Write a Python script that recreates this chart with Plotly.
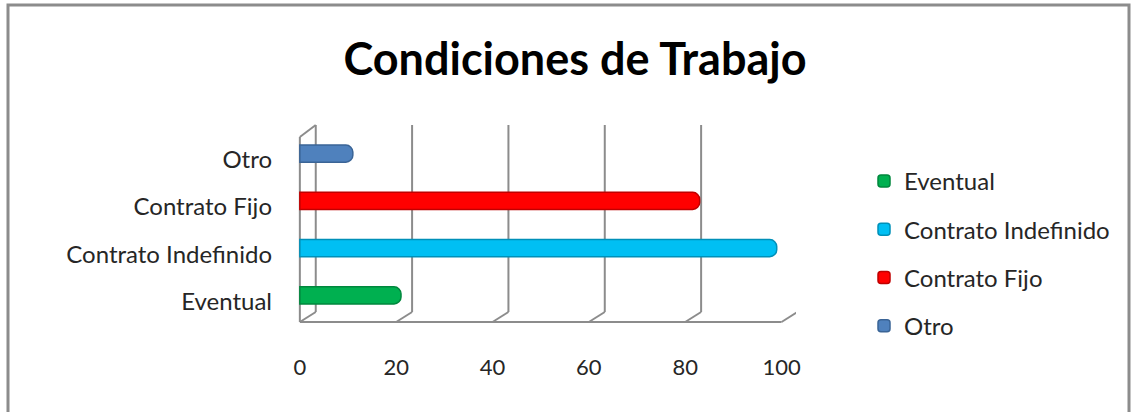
import plotly.graph_objects as go

categories = ["Eventual", "Contrato Indefinido", "Contrato Fijo", "Otro"]
values = [21, 99, 83, 11]
colors = ["#00B050", "#00BFF3", "#FF0000", "#4F81BD"]
edge_colors = ["#00873D", "#0090B8", "#C00000", "#3A6496"]
x_ticks = [0, 20, 40, 60, 80, 100]

W, H = 1131, 412
L, R, T, B = 296, 335, 130, 93
pw, ph = W - L - R, H - T - B

def px(x):
    return (x - L) / pw

def py(y):
    return 1 - (y - T) / ph

FONT = "Lato, Carlito, Calibri, sans-serif"

fig = go.Figure()
for i, (cat, val) in enumerate(zip(categories, values)):
    fig.add_trace(go.Bar(
        y=[cat], x=[val], orientation="h", name=cat,
        marker=dict(color=colors[i], line=dict(color=edge_colors[i], width=1.5),
                    cornerradius=7),
        width=0.36, legendgroup=cat, showlegend=True, hoverinfo="x+y",
    ))

shapes = []
gray = "#8C8C8C"
off = 3.3  # back-wall offset in data units
y_top, y_back, y_front = 125, 312, 322
for t in x_ticks:
    shapes.append(dict(type="line", xref="x", yref="paper", x0=t + off, x1=t + off,
                       y0=py(y_top), y1=py(y_back), line=dict(color=gray, width=2), layer="below"))
    shapes.append(dict(type="line", xref="x", yref="paper", x0=t + off, x1=t,
                       y0=py(y_back), y1=py(y_front), line=dict(color=gray, width=2), layer="below"))
shapes.append(dict(type="line", xref="x", yref="paper", x0=0, x1=x_ticks[-1],
                   y0=py(y_front), y1=py(y_front), line=dict(color=gray, width=2), layer="below"))
shapes.append(dict(type="line", xref="x", yref="paper", x0=0, x1=0,
                   y0=py(137), y1=py(y_front), line=dict(color=gray, width=2), layer="below"))
shapes.append(dict(type="line", xref="x", yref="paper", x0=0, x1=off,
                   y0=py(137), y1=py(y_top), line=dict(color=gray, width=2), layer="below"))
shapes.append(dict(type="rect", xref="paper", yref="paper", x0=px(8), x1=px(1129),
                   y0=py(420), y1=py(5), line=dict(color="#8C8C8C", width=3)))

fig.update_layout(
    width=W, height=H,
    margin=dict(l=L, r=R, t=T, b=B, autoexpand=False),
    paper_bgcolor="white", plot_bgcolor="rgba(0,0,0,0)",
    barmode="overlay",
    font=dict(family=FONT, size=21, color="#262626"),
    title=dict(text="<b>Condiciones de Trabajo</b>", x=575 / W, xanchor="center",
               y=1 - 59 / H, yanchor="middle", font=dict(family=FONT, size=45, color="#000000")),
    xaxis=dict(range=[-0.8, 103], tickvals=x_ticks, showgrid=False, zeroline=False,
               showline=False, ticks="", tickfont=dict(size=22), ticklabelstandoff=33),
    yaxis=dict(categoryorder="array", categoryarray=categories, showgrid=False,
               zeroline=False, showline=False, ticks="", ticklabelstandoff=23,
               ticklabelshift=6, tickfont=dict(size=24)),
    legend=dict(xref="container", yref="container", x=864 / W, xanchor="left",
                y=1 - 159 / H, yanchor="top",
                traceorder="grouped", tracegroupgap=14, font=dict(size=24),
                bgcolor="rgba(0,0,0,0)"),
    shapes=shapes,
)

fig.write_html("out.html", config={"displayModeBar": False},
               post_script="document.body.style.margin='0';")
